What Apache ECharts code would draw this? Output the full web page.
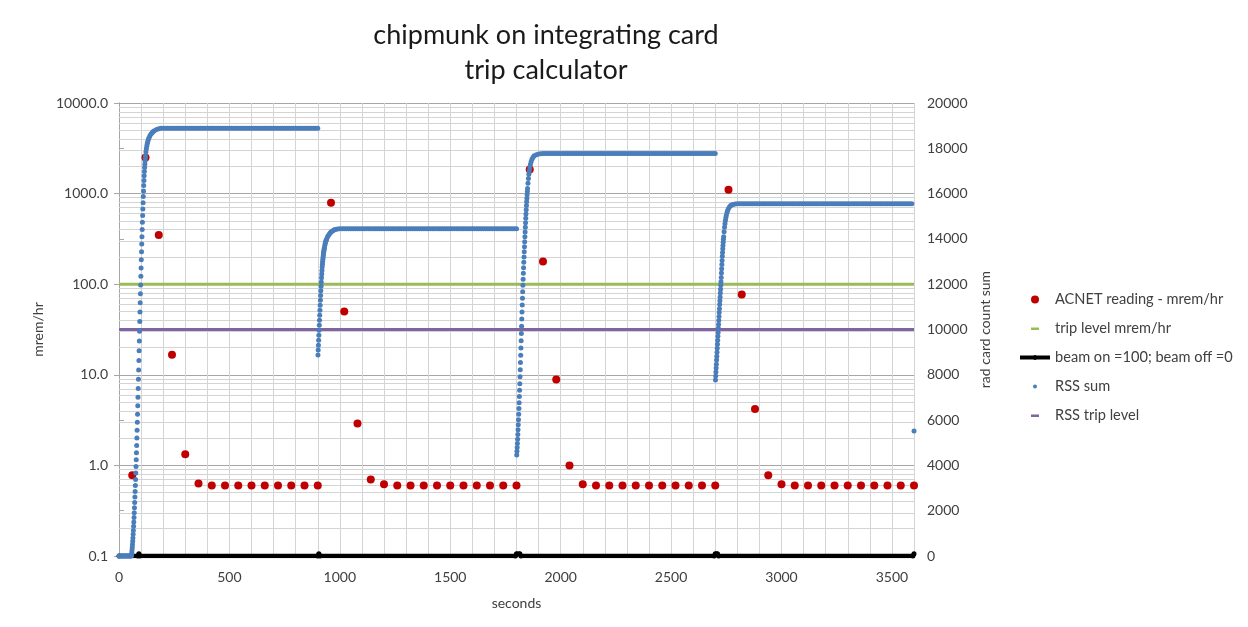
<!DOCTYPE html>
<html>
<head>
<meta charset="utf-8">
<script src="https://cdn.jsdelivr.net/npm/echarts@6/dist/echarts.min.js"></script>
<style>
  html, body { margin: 0; padding: 0; background: #fff; }
  #chart { width: 1248px; height: 627px; }
</style>
</head>
<body>
<div id="chart"></div>
<script>
// ACNET readings, one every 60 s (mrem/hr, left log axis)
const acnetTime = [60, 120, 180, 240, 300, 360, 420, 480, 540, 600, 660, 720, 780, 840, 900,
  960, 1020, 1080, 1140, 1200, 1260, 1320, 1380, 1440, 1500, 1560, 1620, 1680, 1740, 1800,
  1860, 1920, 1980, 2040, 2100, 2160, 2220, 2280, 2340, 2400, 2460, 2520, 2580, 2640, 2700,
  2760, 2820, 2880, 2940, 3000, 3060, 3120, 3180, 3240, 3300, 3360, 3420, 3480, 3540, 3600];
const acnetReading = [0.78, 2500, 350, 16.6, 1.33, 0.63, 0.6, 0.6, 0.6, 0.6, 0.6, 0.6, 0.6, 0.6, 0.6,
  790, 50, 2.9, 0.7, 0.62, 0.6, 0.6, 0.6, 0.6, 0.6, 0.6, 0.6, 0.6, 0.6, 0.6,
  1840, 178, 8.9, 1.0, 0.62, 0.6, 0.6, 0.6, 0.6, 0.6, 0.6, 0.6, 0.6, 0.6, 0.6,
  1100, 77, 4.2, 0.78, 0.62, 0.6, 0.6, 0.6, 0.6, 0.6, 0.6, 0.6, 0.6, 0.6, 0.6];

const tripLevel = [[0, 100], [3600, 100]];          // mrem/hr
const rssTripLevel = [[0, 10000], [3600, 10000]];   // counts
const beamOnOff = [[0, 0], [85, 0], [90, 100], [95, 0], [900, 0], [905, 100], [910, 0],
  [1795, 0], [1800, 100], [1815, 100], [1820, 0], [2695, 0], [2700, 100], [2710, 100], [2715, 0],
  [3595, 0], [3600, 100]];

// RSS sum (rad card count sum, right axis) [seconds, counts]
const rssRise1 = [[0, 0], [4, 0], [8, 0], [12, 0], [16, 0], [20, 0], [24, 0], [28, 0], [32, 0], [36, 0],
  [40, 0], [44, 0], [48, 0], [52, 0], [56, 0], [57, 60], [58, 150], [59, 260], [60, 380], [61, 510],
  [62, 650], [63, 800], [64, 960], [65, 1130], [66, 1310], [67, 1500], [68, 1700], [69, 1910], [70, 2130],
  [71, 2360], [72, 2600], [73, 2850], [74, 3110], [75, 3380], [76, 3660], [77, 3950], [78, 4250],
  [79, 4560], [80, 4880], [81, 5210], [82, 5550], [83, 5900], [84, 6260], [85, 6630], [86, 7010],
  [87, 7400], [88, 7800], [89, 8210], [90, 8630], [91, 9060], [92, 9490], [93, 9920], [94, 10350],
  [95, 10770], [96, 11180], [97, 11580], [98, 11970], [99, 12350], [100, 12720], [101, 13080],
  [102, 13430], [103, 13770], [104, 14100], [105, 14420], [106, 14730], [107, 15030], [108, 15320],
  [109, 15600], [110, 15870], [111, 16120], [112, 16360], [113, 16580], [114, 16790], [115, 16980],
  [116, 17150], [117, 17300], [118, 17440], [119, 17560], [120, 17670], [122, 17850], [124, 17990],
  [126, 18110], [128, 18210], [130, 18290], [133, 18390], [136, 18470], [140, 18550], [145, 18630],
  [150, 18690], [155, 18740], [160, 18780], [170, 18830], [180, 18860], [190, 18880]];
const rssFlat1 = [[200, 18890], [210, 18890], [220, 18890], [230, 18890], [240, 18890], [250, 18890],
  [260, 18890], [270, 18890], [280, 18890], [290, 18890], [300, 18890], [310, 18890], [320, 18890],
  [330, 18890], [340, 18890], [350, 18890], [360, 18890], [370, 18890], [380, 18890], [390, 18890],
  [400, 18890], [410, 18890], [420, 18890], [430, 18890], [440, 18890], [450, 18890], [460, 18890],
  [470, 18890], [480, 18890], [490, 18890], [500, 18890], [510, 18890], [520, 18890], [530, 18890],
  [540, 18890], [550, 18890], [560, 18890], [570, 18890], [580, 18890], [590, 18890], [600, 18890],
  [610, 18890], [620, 18890], [630, 18890], [640, 18890], [650, 18890], [660, 18890], [670, 18890],
  [680, 18890], [690, 18890], [700, 18890], [710, 18890], [720, 18890], [730, 18890], [740, 18890],
  [750, 18890], [760, 18890], [770, 18890], [780, 18890], [790, 18890], [800, 18890], [810, 18890],
  [820, 18890], [830, 18890], [840, 18890], [850, 18890], [860, 18890], [870, 18890], [880, 18890],
  [890, 18890], [900, 18890]];
const rssRise2 = [[901, 8870], [902, 9090], [903, 9310], [904, 9530], [905, 9750], [906, 9970],
  [907, 10190], [908, 10410], [909, 10630], [910, 10850], [911, 11070], [912, 11290], [913, 11500],
  [914, 11710], [915, 11910], [916, 12100], [917, 12280], [918, 12450], [919, 12610], [920, 12760],
  [921, 12880], [922, 12990], [923, 13090], [924, 13180], [925, 13270], [926, 13350], [927, 13420],
  [928, 13490], [929, 13550], [930, 13610], [932, 13720], [934, 13810], [936, 13880], [938, 13940],
  [940, 13990], [944, 14080], [948, 14150], [952, 14210], [956, 14260], [960, 14300], [965, 14340],
  [970, 14370], [975, 14400], [980, 14420], [990, 14440]];
const rssFlat2 = [[1000, 14450], [1010, 14450], [1020, 14450], [1030, 14450], [1040, 14450],
  [1050, 14450], [1060, 14450], [1070, 14450], [1080, 14450], [1090, 14450], [1100, 14450],
  [1110, 14450], [1120, 14450], [1130, 14450], [1140, 14450], [1150, 14450], [1160, 14450],
  [1170, 14450], [1180, 14450], [1190, 14450], [1200, 14450], [1210, 14450], [1220, 14450],
  [1230, 14450], [1240, 14450], [1250, 14450], [1260, 14450], [1270, 14450], [1280, 14450],
  [1290, 14450], [1300, 14450], [1310, 14450], [1320, 14450], [1330, 14450], [1340, 14450],
  [1350, 14450], [1360, 14450], [1370, 14450], [1380, 14450], [1390, 14450], [1400, 14450],
  [1410, 14450], [1420, 14450], [1430, 14450], [1440, 14450], [1450, 14450], [1460, 14450],
  [1470, 14450], [1480, 14450], [1490, 14450], [1500, 14450], [1510, 14450], [1520, 14450],
  [1530, 14450], [1540, 14450], [1550, 14450], [1560, 14450], [1570, 14450], [1580, 14450],
  [1590, 14450], [1600, 14450], [1610, 14450], [1620, 14450], [1630, 14450], [1640, 14450],
  [1650, 14450], [1660, 14450], [1670, 14450], [1680, 14450], [1690, 14450], [1700, 14450],
  [1710, 14450], [1720, 14450], [1730, 14450], [1740, 14450], [1750, 14450], [1760, 14450],
  [1770, 14450], [1780, 14450], [1790, 14450], [1800, 14450]];
const rssRise3 = [[1801, 4460], [1802, 4620], [1803, 4790], [1804, 4970], [1805, 5160], [1806, 5360],
  [1807, 5570], [1808, 5790], [1809, 6020], [1810, 6260], [1811, 6510], [1812, 6770], [1813, 7040],
  [1814, 7320], [1815, 7610], [1816, 7910], [1817, 8220], [1818, 8540], [1819, 8860], [1820, 9180],
  [1821, 9500], [1822, 9820], [1823, 10140], [1824, 10460], [1825, 10770], [1826, 11080],
  [1827, 11380], [1828, 11670], [1829, 11950], [1830, 12220], [1831, 12480], [1832, 12730],
  [1833, 12970], [1834, 13200], [1835, 13430], [1836, 13650], [1837, 13870], [1838, 14090],
  [1839, 14300], [1840, 14510], [1841, 14710], [1842, 14910], [1843, 15100], [1844, 15290],
  [1845, 15470], [1846, 15640], [1847, 15800], [1848, 15950], [1849, 16090], [1850, 16220],
  [1852, 16460], [1854, 16670], [1856, 16850], [1858, 17000], [1860, 17130], [1863, 17290],
  [1866, 17410], [1870, 17520], [1875, 17610], [1880, 17670], [1890, 17720], [1900, 17750],
  [1910, 17760]];
const rssFlat3 = [[1920, 17770], [1930, 17770], [1940, 17770], [1950, 17770], [1960, 17770],
  [1970, 17770], [1980, 17770], [1990, 17770], [2000, 17770], [2010, 17770], [2020, 17770],
  [2030, 17770], [2040, 17770], [2050, 17770], [2060, 17770], [2070, 17770], [2080, 17770],
  [2090, 17770], [2100, 17770], [2110, 17770], [2120, 17770], [2130, 17770], [2140, 17770],
  [2150, 17770], [2160, 17770], [2170, 17770], [2180, 17770], [2190, 17770], [2200, 17770],
  [2210, 17770], [2220, 17770], [2230, 17770], [2240, 17770], [2250, 17770], [2260, 17770],
  [2270, 17770], [2280, 17770], [2290, 17770], [2300, 17770], [2310, 17770], [2320, 17770],
  [2330, 17770], [2340, 17770], [2350, 17770], [2360, 17770], [2370, 17770], [2380, 17770],
  [2390, 17770], [2400, 17770], [2410, 17770], [2420, 17770], [2430, 17770], [2440, 17770],
  [2450, 17770], [2460, 17770], [2470, 17770], [2480, 17770], [2490, 17770], [2500, 17770],
  [2510, 17770], [2520, 17770], [2530, 17770], [2540, 17770], [2550, 17770], [2560, 17770],
  [2570, 17770], [2580, 17770], [2590, 17770], [2600, 17770], [2610, 17770], [2620, 17770],
  [2630, 17770], [2640, 17770], [2650, 17770], [2660, 17770], [2670, 17770], [2680, 17770],
  [2690, 17770], [2700, 17770]];
const rssRise4 = [[2701, 7770], [2702, 7950], [2703, 8120], [2704, 8300], [2705, 8470], [2706, 8650],
  [2707, 8820], [2708, 9000], [2709, 9170], [2710, 9350], [2711, 9520], [2712, 9700], [2713, 9870],
  [2714, 10050], [2715, 10220], [2716, 10400], [2717, 10570], [2718, 10750], [2719, 10920],
  [2720, 11100], [2721, 11270], [2722, 11440], [2723, 11610], [2724, 11780], [2725, 11950],
  [2726, 12110], [2727, 12300], [2728, 12490], [2729, 12680], [2730, 12870], [2731, 13050],
  [2732, 13230], [2733, 13400], [2734, 13560], [2735, 13710], [2736, 13850], [2737, 13980],
  [2738, 14100], [2740, 14320], [2742, 14510], [2744, 14670], [2746, 14810], [2748, 14930],
  [2750, 15030], [2753, 15150], [2756, 15250], [2760, 15340], [2765, 15420], [2770, 15470],
  [2775, 15500], [2780, 15520], [2790, 15540], [2800, 15550]];
const rssFlat4 = [[2810, 15550], [2820, 15550], [2830, 15550], [2840, 15550], [2850, 15550],
  [2860, 15550], [2870, 15550], [2880, 15550], [2890, 15550], [2900, 15550], [2910, 15550],
  [2920, 15550], [2930, 15550], [2940, 15550], [2950, 15550], [2960, 15550], [2970, 15550],
  [2980, 15550], [2990, 15550], [3000, 15550], [3010, 15550], [3020, 15550], [3030, 15550],
  [3040, 15550], [3050, 15550], [3060, 15550], [3070, 15550], [3080, 15550], [3090, 15550],
  [3100, 15550], [3110, 15550], [3120, 15550], [3130, 15550], [3140, 15550], [3150, 15550],
  [3160, 15550], [3170, 15550], [3180, 15550], [3190, 15550], [3200, 15550], [3210, 15550],
  [3220, 15550], [3230, 15550], [3240, 15550], [3250, 15550], [3260, 15550], [3270, 15550],
  [3280, 15550], [3290, 15550], [3300, 15550], [3310, 15550], [3320, 15550], [3330, 15550],
  [3340, 15550], [3350, 15550], [3360, 15550], [3370, 15550], [3380, 15550], [3390, 15550],
  [3400, 15550], [3410, 15550], [3420, 15550], [3430, 15550], [3440, 15550], [3450, 15550],
  [3460, 15550], [3470, 15550], [3480, 15550], [3490, 15550], [3500, 15550], [3510, 15550],
  [3520, 15550], [3530, 15550], [3540, 15550], [3550, 15550], [3560, 15550], [3570, 15550],
  [3580, 15550], [3590, 15550], [3600, 5520]];

const FONT = 'Lato, "Liberation Sans", sans-serif';
const LABEL = '#404040';

// log minor gridlines 2..9 of every decade (drawn as marklines)
const logMinor = [];
for (let p = -1; p < 4; p++) {
  for (let m = 2; m <= 9; m++) logMinor.push(+(m * Math.pow(10, p)).toFixed(3));
}

const acnetData = acnetTime.map((t, i) => [t, acnetReading[i]]);
const rssData = [].concat(rssRise1, rssFlat1, rssRise2, rssFlat2, rssRise3, rssFlat3, rssRise4, rssFlat4);

// legend icons, 30 x 10 frame
const FRAME = 'M0,0 L0,0 Z M30,10 L30,10 Z ';
const icons = {
  dot: 'path://' + FRAME + 'M11,5 A4,4 0 1,1 19,5 A4,4 0 1,1 11,5 Z',
  dash: 'path://' + FRAME + 'M11,4 L19,4 L19,6.5 L11,6.5 Z',
  beam: 'path://' + FRAME + 'M0,3 L30,3 L30,7 L0,7 Z M12.5,5 A2.5,2.5 0 1,1 17.5,5 A2.5,2.5 0 1,1 12.5,5 Z',
  small: 'path://' + FRAME + 'M13,5 A2,2 0 1,1 17,5 A2,2 0 1,1 13,5 Z'
};

const chart = echarts.init(document.getElementById('chart'));
chart.setOption({
  animation: false,
  backgroundColor: '#fff',
  textStyle: { fontFamily: FONT },
  title: {
    text: 'chipmunk on integrating card\ntrip calculator',
    left: 541,
    top: 13,
    textAlign: 'center',
    textStyle: { fontFamily: FONT, fontSize: 27, fontWeight: 'normal', color: '#1a1a1a', lineHeight: 35 }
  },
  legend: {
    orient: 'vertical',
    left: 1015,
    top: 287,
    itemWidth: 30,
    itemHeight: 10,
    itemGap: 14,
    textStyle: { fontFamily: FONT, fontSize: 14.6, color: LABEL, lineHeight: 15 },
    data: [
      { name: 'ACNET reading - mrem/hr', icon: icons.dot, itemStyle: { color: '#c00000', borderWidth: 0 } },
      { name: 'trip level mrem/hr', icon: icons.dash, itemStyle: { color: '#9bbb59', borderWidth: 0 } },
      { name: 'beam on =100; beam off =0', icon: icons.beam, itemStyle: { color: '#000', borderWidth: 0 } },
      { name: 'RSS sum', icon: icons.small, itemStyle: { color: '#4a7ebb', borderWidth: 0 } },
      { name: 'RSS trip level', icon: icons.dash, itemStyle: { color: '#8064a2', borderWidth: 0 } }
    ]
  },
  grid: { left: 119, right: 334, top: 103, bottom: 71 },
  xAxis: [
    {
      type: 'value', min: 0, max: 3600, interval: 500,
      name: 'seconds', nameLocation: 'middle', nameGap: 40,
      nameTextStyle: { fontFamily: FONT, fontSize: 14, color: LABEL },
      axisLine: { lineStyle: { color: '#a6a6a6' } },
      axisTick: { show: false },
      axisLabel: { showMaxLabel: false, margin: 14, fontSize: 14, color: LABEL, fontFamily: FONT,
        formatter: v => String(v) },
      splitLine: { show: true, lineStyle: { color: '#a6a6a6', width: 1 } }
    },
    {
      type: 'value', min: 0, max: 3600, interval: 100, position: 'bottom',
      axisLine: { show: false }, axisTick: { show: false }, axisLabel: { show: false },
      splitLine: { show: true, lineStyle: { color: '#d4d4d4', width: 1 } }
    }
  ],
  yAxis: [
    {
      type: 'log', logBase: 10, min: 0.1, max: 10000, position: 'left',
      name: 'mrem/hr', nameLocation: 'middle', nameGap: 74, nameRotate: 90,
      nameTextStyle: { fontFamily: FONT, fontSize: 14, color: LABEL },
      axisLine: { show: true, lineStyle: { color: '#a6a6a6' } },
      axisTick: { show: true, length: 5, lineStyle: { color: '#a6a6a6' } },
      axisLabel: {
        margin: 11, fontSize: 14, color: LABEL, fontFamily: FONT,
        formatter: v => Number(v).toFixed(1)
      },
      splitLine: { show: true, lineStyle: { color: '#a6a6a6', width: 1 } }
    },
    {
      type: 'value', min: 0, max: 20000, interval: 2000, position: 'right',
      name: 'rad card count sum', nameLocation: 'middle', nameGap: 63, nameRotate: 90,
      nameTextStyle: { fontFamily: FONT, fontSize: 14, color: LABEL },
      axisLine: { show: true, lineStyle: { color: '#a6a6a6' } },
      axisTick: { show: true, length: 5, lineStyle: { color: '#a6a6a6' } },
      axisLabel: { margin: 13, fontSize: 14, color: LABEL, fontFamily: FONT,
        formatter: v => String(v) },
      splitLine: { show: false }
    }
  ],
  series: [
    {
      name: 'grid-minor', type: 'line', data: [], yAxisIndex: 0, z: 1, silent: true,
      markLine: {
        z: 1, silent: true, symbol: 'none', animation: false,
        label: { show: false },
        lineStyle: { color: '#d4d4d4', width: 1, type: 'solid' },
        emphasis: { disabled: true },
        data: logMinor.map(v => ({ yAxis: v }))
      }
    },
    {
      name: 'ACNET reading - mrem/hr', type: 'scatter', yAxisIndex: 0, z: 2,
      symbol: 'circle', symbolSize: 8,
      itemStyle: { color: '#c00000', opacity: 1 },
      data: acnetData
    },
    {
      name: 'trip level mrem/hr', type: 'line', yAxisIndex: 0, z: 2,
      showSymbol: false, lineStyle: { color: '#9bbb59', width: 3 },
      itemStyle: { color: '#9bbb59' },
      data: tripLevel
    },
    {
      name: 'beam on =100; beam off =0', type: 'line', yAxisIndex: 1, z: 3,
      symbol: 'circle', symbolSize: 5, showAllSymbol: true,
      lineStyle: { color: '#000', width: 4.5 },
      itemStyle: { color: '#000' },
      data: beamOnOff
    },
    {
      name: 'RSS sum', type: 'scatter', yAxisIndex: 1, z: 3,
      symbol: 'circle', symbolSize: 5, large: false,
      itemStyle: { color: '#4a7ebb', opacity: 1 },
      data: rssData
    },
    {
      name: 'RSS trip level', type: 'line', yAxisIndex: 1, z: 3,
      showSymbol: false, lineStyle: { color: '#8064a2', width: 3 },
      itemStyle: { color: '#8064a2' },
      data: rssTripLevel
    }
  ]
});
</script>
</body>
</html>
